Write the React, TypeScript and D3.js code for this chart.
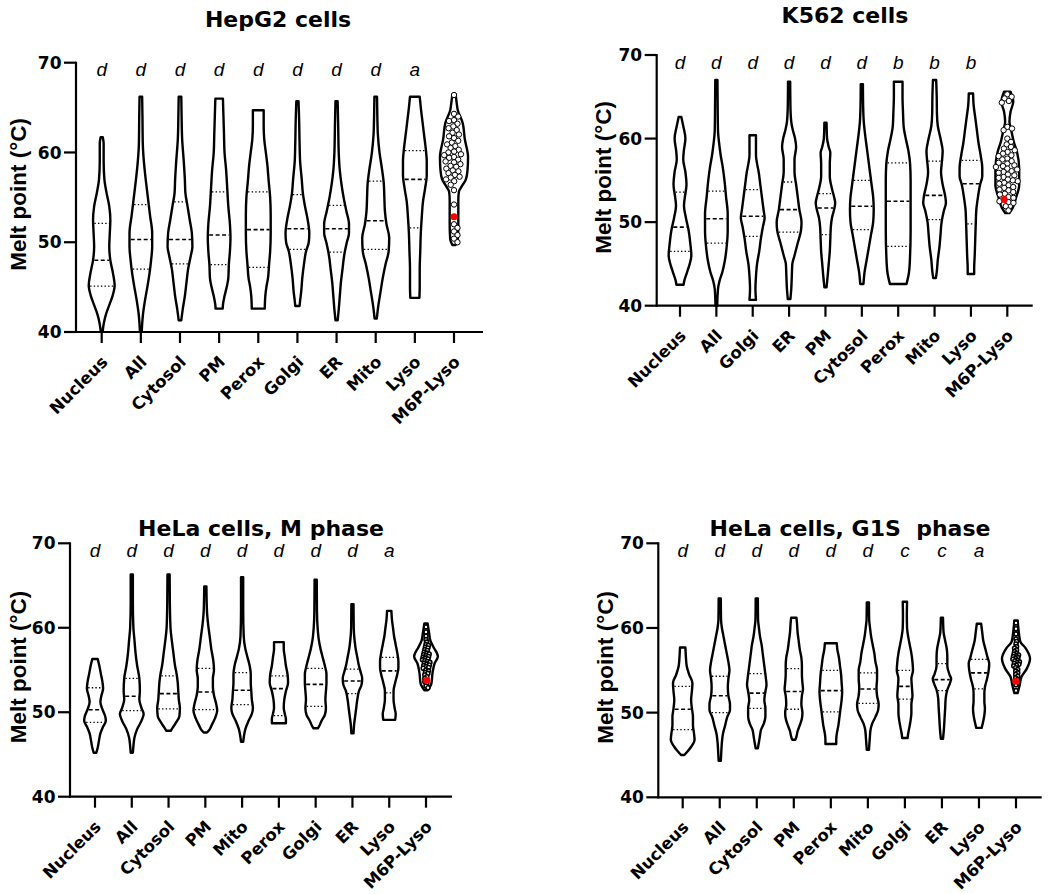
import React from 'react';
import * as d3 from 'd3';

type Prof = [number, number][];

// ---------------- HepG2 ----------------
const hepg2Title = 'HepG2 cells';
const hepg2Categories = ['Nucleus', 'All', 'Cytosol', 'PM', 'Perox', 'Golgi', 'ER', 'Mito', 'Lyso', 'M6P-Lyso'];
const hepg2Letters = ['d', 'd', 'd', 'd', 'd', 'd', 'd', 'd', 'a', ''];
const hepg2Q1 = [45.1, 47.0, 47.6, 47.5, 47.2, 49.2, 48.9, 49.2, 51.6];
const hepg2Median = [48.0, 50.3, 50.3, 50.8, 51.4, 51.5, 51.5, 52.4, 57.0];
const hepg2Q3 = [52.1, 54.2, 54.5, 55.6, 55.6, 55.3, 54.1, 56.8, 60.2];
const hepg2Density: Prof[] = [
  [[61.7,1],[61,1.8],[59,1.8],[57,2.5],[55.5,4.5],[54,7],[52.5,8],[51,7.5],[49.5,7],[48,8],[46.5,10.5],[45.2,12],[44,10],[43,7],[42,4],[41,2],[40,0.8]],
  [[66.2,1.2],[64,1.5],[61,1.8],[59,2.8],[57,4.5],[55,6.5],[53,8.5],[51,10.5],[49.5,10.5],[48,9.5],[46.5,8],[45,6],[43.5,3.8],[42,2],[40,0.8]],
  [[66.2,1.2],[64,1.5],[61.5,2],[59,3.5],[57,4.5],[55.5,5],[54,7],[52.5,9],[51,11],[49.5,11.5],[48.5,10],[47,7.5],[45.5,6],[44,4.5],[42.5,2.5],[41.3,1.2]],
  [[66,3.5],[64,4],[62,4.5],[60,5],[58,6.5],[56,7.5],[54,8.5],[52,10],[50.5,10.5],[49,10],[47.5,9],[46,8.5],[45,7],[44,5],[43,3.5],[42.6,3.3]],
  [[64.7,5],[63,5],[61.5,5.5],[60,7],[58.5,8.5],[57,9.5],[55,11],[53,11.5],[51,11.5],[49,11],[47.5,10],[46,9],[45,7.5],[44,6.5],[42.6,6]],
  [[65.7,1],[64,1.5],[61,2],[59,2.5],[57,4],[55.5,5],[54,7],[52.5,9.5],[51,11],[50,10.5],[49,8],[47.5,6],[46,4.5],[44.5,3.5],[43.5,2.5],[42.9,2]],
  [[65.7,1],[63,1.5],[60,2],[58,3],[56.5,4.5],[55,6.5],[53.5,9],[52,11.5],[51,11.5],[50,9.5],[48.5,7],[47,5.5],[45.5,4],[44,3],[42.5,2],[41.3,1]],
  [[66.2,1.2],[64,1.5],[62,2],[60,3.5],[58,6],[56.5,7.5],[55,8],[53.5,8.5],[52,10],[50.5,12.5],[49,12],[47.5,9],[46,6.5],[44.5,4.5],[43,2.5],[41.5,1]],
  [[66.2,4.5],[65,5.5],[63.5,7],[62,8.5],[60.5,10],[59,11],[57.5,11],[56,9.5],[54.5,7.5],[53,6.5],[51,5.5],[49,5],[47,4.5],[45,4.5],[43.8,4.2]],
  [[66.5,1.5],[65.5,2.5],[64.7,3.5],[63.3,8],[61.5,10],[59.5,13],[58,12.5],[57,11],[56.2,7],[55.6,4.5],[54.7,4],[52,4],[50.3,3.5],[49.7,1.5]],
];
const hepg2M6P = [66.4, 64.3, 64.0, 63.6, 63.5, 63.2, 62.9, 62.7, 62.5, 62.2, 62.0, 61.8, 61.6, 61.3, 61.1, 60.9, 60.7, 60.5, 60.3, 60.1, 60.0, 59.8, 59.7, 59.5, 59.4, 59.2, 59.0, 58.9, 58.7, 58.5, 58.4, 58.2, 58.0, 57.9, 57.7, 57.5, 57.3, 57.2, 57.0, 56.8, 56.4, 55.8, 54.2, 52.0, 51.6, 51.2, 50.8, 50.4, 50.0];
const hepg2Highlight = 52.85;

// ---------------- K562 ----------------
const k562Title = 'K562 cells';
const k562Categories = ['Nucleus', 'All', 'Golgi', 'ER', 'PM', 'Cytosol', 'Perox', 'Mito', 'Lyso', 'M6P-Lyso'];
const k562Letters = ['d', 'd', 'd', 'd', 'd', 'd', 'b', 'b', 'b', ''];
const k562Q1 = [46.5, 47.5, 48.3, 48.8, 48.5, 49.1, 47.1, 50.3, 49.8];
const k562Median = [49.4, 50.4, 50.7, 51.5, 51.7, 51.9, 52.5, 53.2, 54.6];
const k562Q3 = [53.6, 53.7, 53.9, 54.8, 53.4, 55.0, 57.1, 57.3, 57.4];
const k562Density: Prof[] = [
  [[62.6,1.2],[61.5,3],[60,5],[58.5,3.5],[57.5,3],[56,5],[54.5,6],[53,4.5],[52,3.7],[50.5,5.5],[49,8],[47.5,9.5],[46,10.5],[45,9],[44,6.5],[43,4],[42.5,3.3]],
  [[67,1],[64,1.2],[61,1.5],[59.5,2.5],[58,4],[56.5,6],[55,7.5],[53,9],[51,10.5],[49,10.5],[47,9.5],[45.5,8],[44,5.5],[43,3],[42,1.5],[40,0.8]],
  [[60.4,3],[59,3],[58,3],[57,4],[56,5.5],[54.5,7],[53,8.5],[51.5,10],[50.5,11],[49.5,9.5],[48,7.5],[46.5,6],[45,4],[43.5,3],[42,2.5],[40.7,3]],
  [[66.8,1],[64,1.2],[62,2],[61,3.5],[60,5.5],[59,6.5],[57.5,5],[56,5],[54.5,6.5],[53,8],[51.5,9.5],[50,11.5],[49,11],[47.5,8],[46,5],[45,3],[43.5,2.5],[42,2],[40.8,1.2]],
  [[61.9,1],[60,1.5],[59,3],[58.3,4.5],[57,4],[55.5,4],[54,6],[53,8],[52.3,9],[51.5,8],[50.5,6],[49.5,5],[48,4.5],[46.5,4],[45,3],[43.5,2],[42.2,1]],
  [[66.5,1],[64,1.2],[62,1.8],[60.5,3],[59,4.5],[57.5,6],[56,7.5],[54.5,9],[53,10.5],[51.5,11],[50,10.5],[48.5,8.5],[47,6.5],[45.5,4.5],[44,2.5],[42.6,1.5]],
  [[66.8,4],[65,4],[63,4.5],[61.5,5],[60,7],[58.5,9.5],[57,11],[55,11.5],[52,11.5],[49,11.5],[46,11],[44,10],[42.6,7.7]],
  [[67,1.5],[65,2],[63,2.2],[61.5,3],[60,5.5],[58.5,7.5],[57.5,7],[56,6],[54.5,7.5],[53,10],[52.3,10.5],[51.3,8.5],[50,6.5],[48.5,5.5],[47,4.5],[45.5,3],[44,2],[43.3,1.2]],
  [[65.4,2],[64,2.5],[62.5,4],[61,5.5],[59.5,7],[58,9],[56.5,10.5],[55.5,10.5],[54.5,8.5],[53,6.5],[51.5,5],[50,4.5],[48,4],[46,3.5],[44.5,3],[43.8,3]],
  [[65.6,3],[64.4,5.5],[63.2,3],[62,2],[60.8,4],[59.6,6],[58.4,9],[56.4,11],[54.4,11],[52.9,8],[51.7,5],[51.1,2]],
];
const k562M6P = [65.3, 65.0, 64.8, 64.5, 64.3, 61.4, 61.2, 61.0, 60.0, 59.6, 59.3, 59.0, 58.8, 58.6, 58.4, 58.2, 58.0, 57.9, 57.6, 57.5, 57.3, 57.1, 57.0, 56.8, 56.7, 56.6, 56.4, 56.3, 56.1, 56.0, 55.9, 55.7, 55.6, 55.4, 55.3, 55.1, 55.0, 54.9, 54.7, 54.6, 54.4, 54.2, 54.1, 53.9, 53.8, 53.6, 53.4, 53.3, 53.0, 52.9, 52.5, 52.4, 52.3, 51.9, 51.4];
const k562Highlight = 52.7;

// ---------------- HeLa M phase ----------------
const helaMTitle = 'HeLa cells, M phase';
const helaMCategories = ['Nucleus', 'All', 'Cytosol', 'PM', 'Mito', 'Perox', 'Golgi', 'ER', 'Lyso', 'M6P-Lyso'];
const helaMLetters = ['d', 'd', 'd', 'd', 'd', 'd', 'd', 'd', 'a', ''];
const helaMQ1 = [48.8, 50.2, 50.4, 50.3, 50.9, 49.6, 50.7, 52.2, 52.3];
const helaMMedian = [50.3, 51.9, 52.2, 52.4, 52.6, 52.8, 53.3, 53.7, 54.9];
const helaMQ3 = [52.9, 54.0, 54.3, 55.2, 54.7, 54.3, 55.2, 55.1, 56.5];
const helaMDensity: Prof[] = [
  [[56.3,2.5],[55.5,4],[54.5,5.5],[53.5,7],[52.8,7.5],[52,6],[51.2,5],[50.3,7],[49.5,9.5],[49,10],[48.3,7.5],[47.5,5],[46.5,3.5],[45.8,2.5],[45.2,1.2]],
  [[66.3,1],[63,1],[60,1.5],[58.5,2.5],[57,3.5],[55.5,5],[54,7],[52.5,7.5],[51.5,7],[50.5,9],[49.8,11],[49,9],[48,5],[47,2.5],[46,1.5],[45.2,1]],
  [[66.3,1],[63,1.2],[60,1.8],[58.5,3],[57,4.5],[55.5,6],[54.5,7.5],[53.5,8.5],[52.5,9],[51.5,9.5],[50.5,10.5],[49.5,10],[48.8,7],[48.2,4],[47.8,2]],
  [[64.9,1],[62,1.5],[60.5,2.5],[59,4],[57.5,5.5],[56,7.5],[55,8],[54,7],[53,7],[52,8],[51,10],[50.2,11],[49.3,9],[48.5,6],[47.8,3],[47.6,1.5]],
  [[66,1],[62,1],[59,1.5],[57.5,3],[56.5,5],[55.5,7],[54.5,8],[53.5,8],[52.5,8.5],[51.5,9],[50.5,10],[49.8,9],[49,6],[48,3],[47,1.5],[46.5,1]],
  [[58.3,4.5],[57.5,4.5],[56.5,5.5],[55.5,6.5],[54.5,8],[53.5,8.5],[52.5,6.5],[51.5,5],[50.5,4.5],[49.8,5.5],[49.2,6.5],[48.7,6.5]],
  [[65.7,1],[62,1.2],[60,1.8],[58.5,3],[57.5,4.5],[56.5,6.5],[55.5,8.5],[54.5,10],[53.5,10],[52.5,9.5],[51.5,9],[50.5,9.5],[49.7,8.5],[49,5.5],[48.3,3],[48.1,2]],
  [[62.8,1],[60,1.2],[58.5,2],[57.5,3],[56.5,4.5],[55.5,6],[54.8,7.5],[54,9],[53.3,8.5],[52.5,6],[51.5,4.5],[50.5,3.5],[49.5,2.5],[48.5,1.5],[47.5,1]],
  [[62,2],[61,2.5],[60,3.5],[59,4.5],[58,6],[57,7.5],[56,8.5],[55.3,8.5],[54.5,7.5],[53.5,5.5],[52.5,4],[51.5,4],[50.5,5],[49.8,6],[49.1,5.5]],
  [[60.5,1.5],[59.3,3],[58.5,4],[57.7,7],[56.6,11],[55.8,8],[54.6,6],[53.4,5],[52.6,1.5]],
];
const helaMM6P = [60.1, 59.5, 59.0, 58.6, 58.3, 58.0, 57.9, 57.7, 57.6, 57.4, 57.3, 57.1, 57.0, 56.9, 56.8, 56.7, 56.6, 56.5, 56.4, 56.3, 56.2, 56.1, 56.0, 55.9, 55.8, 55.7, 55.6, 55.5, 55.4, 55.3, 55.2, 55.0, 54.9, 54.7, 54.6, 54.4, 54.2, 54.0, 53.6, 53.4, 53.1, 52.9];
const helaMHighlight = 53.8;

// ---------------- HeLa G1S phase ----------------
const helaGTitle = 'HeLa cells, G1S  phase';
const helaGCategories = ['Nucleus', 'All', 'Cytosol', 'PM', 'Perox', 'Mito', 'Golgi', 'ER', 'Lyso', 'M6P-Lyso'];
const helaGLetters = ['d', 'd', 'd', 'd', 'd', 'd', 'c', 'c', 'a', ''];
const helaGQ1 = [48.0, 50.0, 50.5, 50.4, 50.1, 51.1, 51.6, 52.6, 52.8];
const helaGMedian = [50.4, 52.0, 52.3, 52.5, 52.6, 52.8, 53.1, 53.9, 54.7];
const helaGQ3 = [53.1, 54.3, 54.6, 55.2, 55.0, 54.7, 55.0, 55.8, 56.3];
const helaGDensity: Prof[] = [
  [[57.7,2.5],[56.5,3],[55.5,3.7],[54.5,6],[53.5,9],[52.5,8.5],[51.5,7.8],[50.5,8.5],[49.5,9.5],[48.5,9.5],[47.5,10.5],[46.8,11],[46,8],[45.5,5],[45,1.5]],
  [[63.5,1],[61,1.2],[60,2],[59,3.5],[58,5],[57,6.5],[56,8],[55,9],[54,8],[53,7.5],[52,8],[51,9.5],[50.3,9.5],[49.5,7],[48.5,5],[47.5,3],[46.5,2],[45.5,1.5],[44.3,1]],
  [[63.5,1],[61,1.2],[60,2],[59,3],[58,4.5],[57,5.5],[56,6.5],[55,7.5],[54,8.5],[53.3,9],[52.5,8],[51.5,7],[50.5,8],[49.5,8],[48.7,6.5],[48,4],[47.3,3],[46.5,2],[45.8,1]],
  [[61.2,2.5],[60.5,3],[59.5,3.5],[58.5,4.5],[57.5,5.5],[56.5,7],[55.5,7.5],[54.5,7.5],[53.5,8],[52.8,8.5],[52,7.5],[51,7],[50,8],[49.3,7.5],[48.5,5.5],[47.8,3.5],[47.2,2.5],[46.8,1.5]],
  [[58.2,5.5],[57.5,6],[56.5,7.5],[55.5,8.5],[54.5,9.5],[53.5,10],[52.5,10.5],[51.5,10],[50.5,9],[49.5,8],[48.5,7],[47.5,5.5],[46.8,5],[46.3,5]],
  [[63,1],[61,1.2],[60,2],[59,3],[58,4.5],[57,6],[56,7],[55,8.5],[54,8.5],[53,8],[52,8.5],[51,10],[50.3,9.5],[49.5,7],[48.7,4],[48,2.5],[47,1.8],[45.6,1]],
  [[63.1,2],[61.5,1.8],[60,2],[59,3],[58,4.5],[57,6],[56,7],[55,7.5],[54,6],[53,6.5],[52,7],[51,6],[50,6],[49.3,5.5],[48.5,4.5],[47.5,3],[47,2.5]],
  [[61.2,1],[59.5,1.5],[58.5,3],[57.5,4.5],[56.5,5],[55.5,5],[54.5,7],[54,8.5],[53.5,7.5],[52.7,5],[51.7,3.5],[50.5,3],[49.5,2.5],[48,1.8],[46.9,1]],
  [[60.5,2],[59.5,3],[58.5,4],[57.5,6],[56.5,8],[55.8,9.5],[55,9],[54,7.5],[53,5.5],[52.3,5],[51.3,5],[50.5,5.5],[49.7,5],[49,4],[48.2,2.5]],
  [[60.9,1.5],[59.6,2.5],[58.4,4],[57.6,9],[56.4,13],[55.2,10],[54.2,5],[53.3,3.5],[52.3,1.5]],
];
const helaGM6P = [60.6, 59.9, 59.3, 58.7, 58.4, 58.1, 57.8, 57.6, 57.4, 57.2, 57.0, 56.9, 56.8, 56.7, 56.6, 56.5, 56.4, 56.3, 56.2, 56.1, 56.0, 55.9, 55.8, 55.7, 55.6, 55.5, 55.3, 55.1, 54.9, 54.7, 54.5, 54.3, 54.1, 53.9, 53.3, 52.6];
const helaGHighlight = 53.7;

const yTicks = [40, 50, 60, 70];
const yLabel = 'Melt point (°C)';

// ---------------- layout ----------------
type Layout = {
  axisX: number; xEnd: number; firstX: number; lastX: number;
  y70: number; y40: number; titleX: number; titleY: number; ylabX: number;
  dotR: number; dotGap: number; dotStroke: number;
};
const layouts: Layout[] = [
  { axisX: 76, xEnd: 483, firstX: 101.7, lastX: 454, y70: 62.7, y40: 332, titleX: 278, titleY: 27, ylabX: 26, dotR: 2.7, dotGap: 5.0, dotStroke: 1 },
  { axisX: 656.7, xEnd: 1032.7, firstX: 680, lastX: 1007.3, y70: 55, y40: 305.7, titleX: 845, titleY: 23, ylabX: 611, dotR: 2.7, dotGap: 5.0, dotStroke: 1 },
  { axisX: 70, xEnd: 452, firstX: 95, lastX: 426, y70: 543.3, y40: 796.7, titleX: 261, titleY: 536, ylabX: 26, dotR: 2.0, dotGap: 2.6, dotStroke: 1.6 },
  { axisX: 658.3, xEnd: 1041.7, firstX: 682.7, lastX: 1016, y70: 543.3, y40: 797.3, titleX: 850, titleY: 536, ylabX: 613, dotR: 2.0, dotGap: 2.6, dotStroke: 1.6 },
];

const panels = [
  { title: hepg2Title, categories: hepg2Categories, letters: hepg2Letters, q1: hepg2Q1, med: hepg2Median, q3: hepg2Q3, density: hepg2Density, dots: hepg2M6P, hi: hepg2Highlight },
  { title: k562Title, categories: k562Categories, letters: k562Letters, q1: k562Q1, med: k562Median, q3: k562Q3, density: k562Density, dots: k562M6P, hi: k562Highlight },
  { title: helaMTitle, categories: helaMCategories, letters: helaMLetters, q1: helaMQ1, med: helaMMedian, q3: helaMQ3, density: helaMDensity, dots: helaMM6P, hi: helaMHighlight },
  { title: helaGTitle, categories: helaGCategories, letters: helaGLetters, q1: helaGQ1, med: helaGMedian, q3: helaGQ3, density: helaGDensity, dots: helaGM6P, hi: helaGHighlight },
];

const ARIAL = '"Liberation Sans", Arial, Helvetica, sans-serif';
const WIDE = '"DejaVu Sans", Verdana, sans-serif';

function halfAt(prof: Prof, v: number): number {
  const s = [...prof].sort((a, b) => a[0] - b[0]);
  if (v <= s[0][0]) return s[0][1];
  for (let i = 1; i < s.length; i++) {
    if (v <= s[i][0]) {
      const t = (v - s[i - 1][0]) / (s[i][0] - s[i - 1][0]);
      return s[i - 1][1] + t * (s[i][1] - s[i - 1][1]);
    }
  }
  return s[s.length - 1][1];
}

function beeswarm(items: { v: number; hi: boolean }[], y: (v: number) => number, gap: number) {
  const sorted = items.map((d) => ({ ...d, py: y(d.v) })).sort((a, b) => a.py - b.py);
  const placed: { x: number; y: number }[] = [];
  const out: { v: number; hi: boolean; py: number; dx: number }[] = [];
  for (const p of sorted) {
    const cand = [0];
    for (const q of placed) {
      const dy = p.py - q.y;
      if (Math.abs(dy) < gap) {
        const dx = Math.sqrt(gap * gap - dy * dy);
        cand.push(q.x + dx, q.x - dx);
      }
    }
    cand.sort((a, b) => Math.abs(a) - Math.abs(b));
    let best = 0;
    for (const c of cand) {
      if (placed.every((q) => (q.x - c) ** 2 + (q.y - p.py) ** 2 >= gap * gap - 1e-6)) { best = c; break; }
    }
    placed.push({ x: best, y: p.py });
    out.push({ ...p, dx: best });
  }
  return out;
}

function Panel({ p, L }: { p: typeof panels[number]; L: Layout }) {
  const x = d3.scalePoint<string>().domain(p.categories).range([L.firstX, L.lastX]);
  const y = d3.scaleLinear().domain([40, 70]).range([L.y40, L.y70]);
  const w = d3.scaleLinear().domain([0, 10]).range([0, 10.8]);
  const n = p.categories.length;

  const violins = p.density.map((prof, i) => {
    const cx = x(p.categories[i])!;
    const sorted = [...prof].sort((a, b) => b[0] - a[0]);
    const area = d3.area<[number, number]>()
      .y((d) => y(d[0]))
      .x0((d) => cx - w(d[1]))
      .x1((d) => cx + w(d[1]))
      .curve(d3.curveMonotoneY);
    return { cx, d: area(sorted) || '', prof };
  });

  const m6pX = x(p.categories[n - 1])!;
  const swarm = beeswarm([...p.dots.map((v) => ({ v, hi: false })), { v: p.hi, hi: true }], y, L.dotGap);
  const midY = (L.y40 + L.y70) / 2 - 3;

  return (
    <g>
      <text x={L.titleX} y={L.titleY} textAnchor="middle" fontFamily={WIDE} fontWeight="bold" fontSize={22} style={{ whiteSpace: 'pre' }}>{p.title}</text>
      <text transform={`translate(${L.ylabX},${midY}) rotate(-90)`} textAnchor="middle" fontFamily={ARIAL} fontWeight="bold" fontSize={22.5}>{yLabel}</text>

      {violins.map((v, i) => (
        <path key={'v' + i} d={v.d} fill="none" stroke="#000" strokeWidth={2.4} strokeLinejoin="round" />
      ))}

      {p.med.map((m, i) => {
        const cx = violins[i].cx;
        const prof = violins[i].prof;
        const lines = [
          { v: p.q1[i], dash: '1.4,2.2', sw: 1.3 },
          { v: m, dash: '4,2.5', sw: 1.6 },
          { v: p.q3[i], dash: '1.4,2.2', sw: 1.3 },
        ];
        return lines.map((ln, k) => {
          const hw = Math.max(w(halfAt(prof, ln.v)) - 1.2, 0.5);
          return <line key={'q' + i + '-' + k} x1={cx - hw} x2={cx + hw} y1={y(ln.v)} y2={y(ln.v)} stroke="#000" strokeWidth={ln.sw} strokeDasharray={ln.dash} />;
        });
      })}

      {swarm.filter((d) => !d.hi).map((d, i) => (
        <circle key={'c' + i} cx={m6pX + d.dx} cy={d.py} r={L.dotR} fill="#fff" stroke="#000" strokeWidth={L.dotStroke} />
      ))}
      {swarm.filter((d) => d.hi).map((d, i) => (
        <circle key={'h' + i} cx={m6pX + d.dx} cy={d.py} r={3.5} fill="#ff0000" stroke="none" />
      ))}

      {p.letters.map((t, i) => (
        <text key={'l' + i} x={x(p.categories[i])} y={L.y70 + 13.5} textAnchor="middle" fontFamily={ARIAL} fontStyle="italic" fontSize={19}>{t}</text>
      ))}

      {/* axes */}
      <line x1={L.axisX} x2={L.axisX} y1={L.y70 - 1} y2={L.y40 + 1} stroke="#000" strokeWidth={2.2} />
      <line x1={L.axisX - 1} x2={L.xEnd} y1={L.y40} y2={L.y40} stroke="#000" strokeWidth={2.2} />
      {yTicks.map((t) => (
        <g key={'yt' + t}>
          <line x1={L.axisX - 12} x2={L.axisX} y1={y(t)} y2={y(t)} stroke="#000" strokeWidth={2.2} />
          <text x={L.axisX - 14.5} y={y(t)} dy="0.36em" textAnchor="end" fontFamily={WIDE} fontWeight="bold" fontSize={17}>{t}</text>
        </g>
      ))}
      {p.categories.map((c) => (
        <g key={'xt' + c}>
          <line x1={x(c)} x2={x(c)} y1={L.y40} y2={L.y40 + 11} stroke="#000" strokeWidth={2.2} />
          <text transform={`translate(${x(c)! + 7},${L.y40 + 31}) rotate(-45)`} textAnchor="end" fontFamily={WIDE} fontWeight="bold" fontSize={16.5}>{c}</text>
        </g>
      ))}
    </g>
  );
}

export default function App() {
  return (
    <svg width={1050} height={894} style={{ position: 'absolute', left: 0, top: 0, background: '#fff' }}>
      <rect x={0} y={0} width={1050} height={894} fill="#fff" />
      {panels.map((p, i) => (
        <Panel key={i} p={p} L={layouts[i]} />
      ))}
    </svg>
  );
}
